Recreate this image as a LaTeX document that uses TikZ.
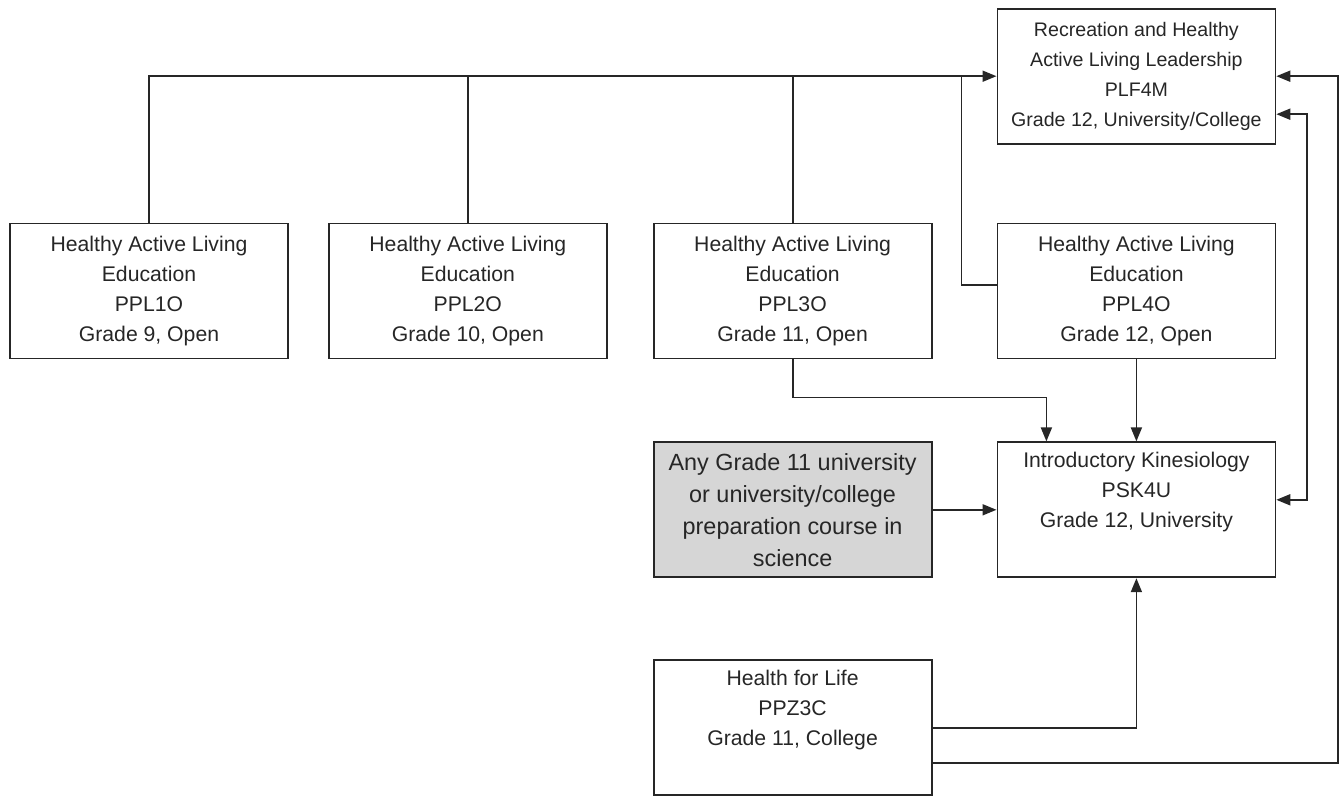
\documentclass[tikz,border=0pt]{standalone}
\usepackage{fontspec}
\setmainfont{Liberation Sans}
\usepackage{tikz}
\usetikzlibrary{arrows.meta,positioning}

\begin{document}
\begin{tikzpicture}[x=0.5pt,y=0.5pt,
		course/.style={draw=black!85, line width=0.9pt, minimum width=139pt, minimum height=67.5pt,
			inner sep=0pt, align=center, text=black!85, font=\fontsize{10.6}{15}\selectfont},
		prereq/.style={course, fill=black!16, font=\fontsize{11.7}{16}\selectfont},
		link/.style={draw=black!85, line width=0.9pt},
		>={Triangle[length=7pt,width=5.5pt]}]
		\useasboundingbox (0,0) rectangle (1340,-797);
		\node[course] (PPL1O) at (149,-291) {Healthy Active Living\\Education\\PPL1O\\Grade 9, Open};
		\node[course, right=19.5pt of PPL1O] (PPL2O) {Healthy Active Living\\Education\\PPL2O\\Grade 10, Open};
		\node[course, right=22.5pt of PPL2O] (PPL3O) {Healthy Active Living\\Education\\PPL3O\\Grade 11, Open};
		\node[course, right=32pt of PPL3O] (PPL4O) {Healthy Active Living\\Education\\PPL4O\\Grade 12, Open};
		\node[course, above=39pt of PPL4O, font=\fontsize{9.8}{15}\selectfont] (PLF4M) {Recreation and Healthy\\Active Living Leadership\\PLF4M\\Grade 12, University/College};
		\node[course, below=41pt of PPL4O] (PSK4U) {Introductory Kinesiology\\PSK4U\\Grade 12, University\\\strut};
		\node[prereq, left=32pt of PSK4U] (SCI) {Any Grade 11 university\\or university/college\\preparation course in\\science};
		\node[course, below=40.5pt of SCI] (PPZ3C) {Health for Life\\PPZ3C\\Grade 11, College\\\strut};
		% into PLF4M
		\draw[link,->] (PPL1O.north) |- (PLF4M.west);
		\draw[link] (PPL2O.north) -- (PPL2O.north |- PLF4M.west);
		\draw[link] (PPL3O.north) -- (PPL3O.north |- PLF4M.west);
		\draw[link] ([yshift=3pt]PPL4O.west) -| ([xshift=-17.5pt]PLF4M.west);
		% into PSK4U
		\draw[link,->] (PPL3O.south) -- ++(0,-38) -| ([xshift=-45pt]PSK4U.north);
		\draw[link,->] (PPL4O.south) -- (PSK4U.north);
		\draw[link,->] (SCI.east) -- (SCI.east -| PSK4U.west);
		\draw[link,->] (PPZ3C.east) -| (PSK4U.south);
		\draw[link,->] ([yshift=-17.5pt]PPZ3C.east) -| ([xshift=31pt]PLF4M.east) -- (PLF4M.east);
		\draw[link,<->] ([yshift=5pt]PSK4U.east) -| ([xshift=15.5pt,yshift=-19pt]PLF4M.east) -- ([yshift=-19pt]PLF4M.east);
	\end{tikzpicture}
\end{document}
